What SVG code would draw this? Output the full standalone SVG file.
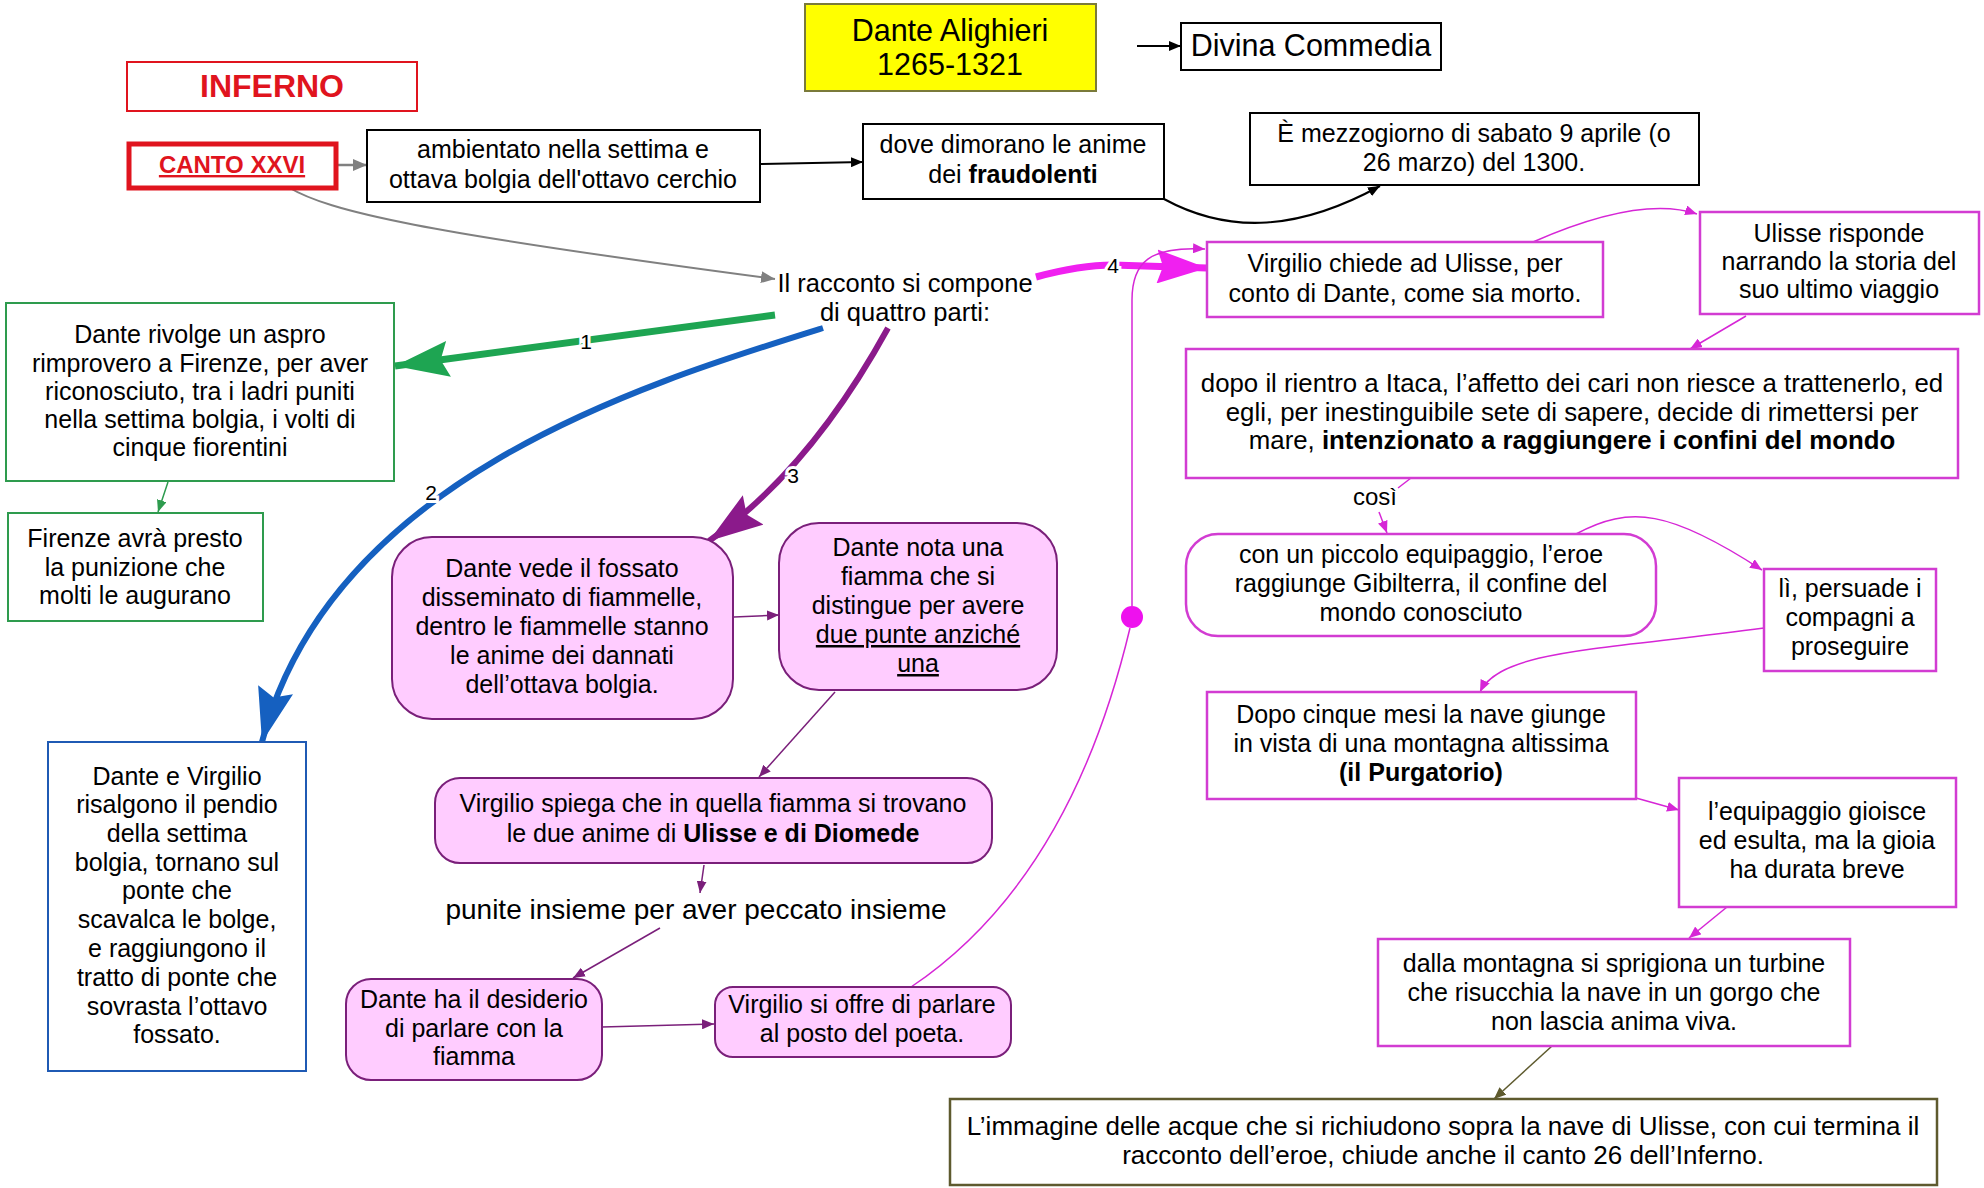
<svg xmlns="http://www.w3.org/2000/svg" width="1984" height="1188" viewBox="0 0 1984 1188" xml:space="preserve">
<defs>
<style>
.t{font-family:"Liberation Sans",Arial,sans-serif;font-size:25px;fill:#000;text-anchor:middle}
.b{font-weight:bold}
.bk{fill:#fff;stroke:#000;stroke-width:2}
.red{fill:#fff;stroke:#E0141E;stroke-width:2}
.red5{fill:#fff;stroke:#E0141E;stroke-width:5}
.grn{fill:#fff;stroke:#2E9B4E;stroke-width:2}
.blu{fill:#fff;stroke:#1F5AB4;stroke-width:2}
.mag{fill:#fff;stroke:#D23CD2;stroke-width:2.5}
.pnk{fill:#FFCCFF;stroke:#7A1F7A;stroke-width:2}
.olv{fill:#fff;stroke:#5E5A2E;stroke-width:2.5}
.yel{fill:#FFFF00;stroke:#7A7A3A;stroke-width:2}
.c{fill:none}
.lbl{font-family:"Liberation Sans",Arial,sans-serif;font-size:21px;fill:#000;text-anchor:middle;paint-order:stroke;stroke:#fff;stroke-width:6px}
</style>
<marker id="aK" markerUnits="userSpaceOnUse" markerWidth="12" markerHeight="10" refX="12" refY="5" orient="auto" viewBox="0 0 12 10"><path d="M0,0L12,5L0,10z" fill="#000"/></marker>
<marker id="aGy" markerUnits="userSpaceOnUse" markerWidth="14" markerHeight="12" refX="14" refY="6" orient="auto" viewBox="0 0 14 12"><path d="M0,0L14,6L0,12z" fill="#808080"/></marker>
<marker id="aG" markerUnits="userSpaceOnUse" markerWidth="12" markerHeight="10" refX="12" refY="5" orient="auto" viewBox="0 0 12 10"><path d="M0,0L12,5L0,10z" fill="#2E9B4E"/></marker>
<marker id="aP" markerUnits="userSpaceOnUse" markerWidth="12" markerHeight="10" refX="12" refY="5" orient="auto" viewBox="0 0 12 10"><path d="M0,0L12,5L0,10z" fill="#7A1F7A"/></marker>
<marker id="aM" markerUnits="userSpaceOnUse" markerWidth="12" markerHeight="10" refX="12" refY="5" orient="auto" viewBox="0 0 12 10"><path d="M0,0L12,5L0,10z" fill="#D626D6"/></marker>
<marker id="aO" markerUnits="userSpaceOnUse" markerWidth="12" markerHeight="10" refX="12" refY="5" orient="auto" viewBox="0 0 12 10"><path d="M0,0L12,5L0,10z" fill="#5E5A2E"/></marker>
<marker id="hG" markerUnits="userSpaceOnUse" markerWidth="56" markerHeight="36" refX="54" refY="18" orient="auto" viewBox="0 0 56 36"><path d="M0,0L54,18L0,36L8,18z" fill="#1EA552"/></marker>
<marker id="hB" markerUnits="userSpaceOnUse" markerWidth="56" markerHeight="36" refX="54" refY="18" orient="auto" viewBox="0 0 56 36"><path d="M0,0L54,18L0,36L8,18z" fill="#1560C0"/></marker>
<marker id="hV" markerUnits="userSpaceOnUse" markerWidth="56" markerHeight="36" refX="54" refY="18" orient="auto" viewBox="0 0 56 36"><path d="M0,0L54,18L0,36L8,18z" fill="#8B1A8B"/></marker>
<marker id="hM" markerUnits="userSpaceOnUse" markerWidth="52" markerHeight="34" refX="50" refY="17" orient="auto" viewBox="0 0 52 34"><path d="M0,0L50,17L0,34L6,17z" fill="#F020F0"/></marker>
</defs>
<g id="connectors">
<path class="c" d="M1137 46 L1181 46" stroke="#000" stroke-width="2" marker-end="url(#aK)"/>
<path class="c" d="M337 165 L367 165" stroke="#808080" stroke-width="2.5" marker-end="url(#aGy)"/>
<path class="c" d="M288 187 C330 212 420 232 775 279" stroke="#808080" stroke-width="2" marker-end="url(#aGy)"/>
<path class="c" d="M760 164 L863 162" stroke="#000" stroke-width="2" marker-end="url(#aK)"/>
<path class="c" d="M1164 199 C1230 235 1300 230 1380 186" stroke="#000" stroke-width="2" marker-end="url(#aK)"/>
<path class="c" d="M775 315 L395 366" stroke="#1EA552" stroke-width="7" marker-end="url(#hG)"/>
<path class="c" d="M823 328 C640 385 330 480 262 742" stroke="#1560C0" stroke-width="6" marker-end="url(#hB)"/>
<path class="c" d="M888 328 Q810 470 709 541" stroke="#8B1A8B" stroke-width="6" marker-end="url(#hV)"/>
<path class="c" d="M1036 277 Q1080 265 1113 265 L1207 268" stroke="#F020F0" stroke-width="7" marker-end="url(#hM)"/>
<text class="lbl" x="586" y="349">1</text>
<text class="lbl" x="431" y="500">2</text>
<text class="lbl" x="793" y="483">3</text>
<text class="lbl" x="1113" y="273">4</text>
<path class="c" d="M168 482 L158 512" stroke="#2E9B4E" stroke-width="1.5" marker-end="url(#aG)"/>
<path class="c" d="M734 617 L779 615" stroke="#7A1F7A" stroke-width="1.5" marker-end="url(#aP)"/>
<path class="c" d="M835 692 L759 777" stroke="#7A1F7A" stroke-width="1.5" marker-end="url(#aP)"/>
<path class="c" d="M704 865 L700 893" stroke="#7A1F7A" stroke-width="1.5" marker-end="url(#aP)"/>
<path class="c" d="M660 928 L573 978" stroke="#7A1F7A" stroke-width="1.5" marker-end="url(#aP)"/>
<path class="c" d="M602 1027 L714 1024" stroke="#7A1F7A" stroke-width="1.5" marker-end="url(#aP)"/>
<path class="c" d="M1132 606 L1132 300 C1132 262 1150 246 1205 249" stroke="#D626D6" stroke-width="1.5" marker-end="url(#aM)"/>
<path class="c" d="M1130 628 Q1070 880 911 987" stroke="#D626D6" stroke-width="1.5"/>
<circle cx="1132" cy="617" r="11" fill="#EE11EE"/>
<path class="c" d="M1533 242 Q1640 195 1697 214" stroke="#D626D6" stroke-width="1.5" marker-end="url(#aM)"/>
<path class="c" d="M1746 316 L1690 349" stroke="#D626D6" stroke-width="1.5" marker-end="url(#aM)"/>
<path class="c" d="M1411 478 L1398 488" stroke="#D626D6" stroke-width="1.5"/>
<path class="c" d="M1379 512 L1387 533" stroke="#D626D6" stroke-width="1.5" marker-end="url(#aM)"/>
<text class="t" x="1375" y="505" style="font-size:24px">così</text>
<path class="c" d="M1576 534 C1630 505 1670 510 1762 570" stroke="#D626D6" stroke-width="1.5" marker-end="url(#aM)"/>
<path class="c" d="M1764 628 C1600 650 1500 650 1480 692" stroke="#D626D6" stroke-width="1.5" marker-end="url(#aM)"/>
<path class="c" d="M1636 798 L1679 810" stroke="#D626D6" stroke-width="1.5" marker-end="url(#aM)"/>
<path class="c" d="M1727 907 L1689 938" stroke="#D626D6" stroke-width="1.5" marker-end="url(#aM)"/>
<path class="c" d="M1552 1046 L1494 1099" stroke="#5E5A2E" stroke-width="1.5" marker-end="url(#aO)"/>
</g>
<g id="n-dante">
<rect class="yel" x="805" y="4" width="291" height="87"/>
<text class="t" x="950" y="41" style="font-size:30.5px">Dante Alighieri</text>
<text class="t" x="950" y="75" style="font-size:30.5px">1265-1321</text>
</g>
<g id="n-divina">
<rect class="bk" x="1181" y="23" width="260" height="47"/>
<text class="t" x="1311" y="56" style="font-size:30.5px">Divina Commedia</text>
</g>
<g id="n-inferno">
<rect class="red" x="127" y="62" width="290" height="49"/>
<text class="t b" x="272" y="97" style="font-size:32px;fill:#E0141E">INFERNO</text>
</g>
<g id="n-canto">
<rect class="red5" x="129" y="144" width="207" height="44"/>
<text class="t b" x="232" y="173" style="font-size:24px;fill:#E0141E;text-decoration:underline">CANTO XXVI</text>
</g>
<g id="n-ambientato">
<rect class="bk" x="367" y="130" width="393" height="72"/>
<text class="t" x="563" y="158">ambientato  nella  settima e</text>
<text class="t" x="563" y="188">ottava bolgia dell'ottavo cerchio</text>
</g>
<g id="n-dove">
<rect class="bk" x="863" y="124" width="301" height="75"/>
<text class="t" x="1013" y="153">dove dimorano le anime</text>
<text class="t" x="1013" y="183">dei <tspan class="b">fraudolenti</tspan></text>
</g>
<g id="n-mezzogiorno">
<rect class="bk" x="1250" y="113" width="449" height="72"/>
<text class="t" x="1474" y="142">È mezzogiorno di sabato 9 aprile (o</text>
<text class="t" x="1474" y="171">26 marzo) del 1300.</text>
</g>
<g id="n-racconto">
<text class="t" x="905" y="292" style="font-size:25.5px">Il racconto si compone</text>
<text class="t" x="905" y="321" style="font-size:25.5px">di quattro parti:</text>
</g>
<g id="n-rivolge">
<rect class="grn" x="6" y="303" width="388" height="178"/>
<text class="t" x="200" y="343">Dante rivolge un aspro</text>
<text class="t" x="200" y="372">rimprovero a Firenze,  per aver</text>
<text class="t" x="200" y="400">riconosciuto, tra i ladri puniti</text>
<text class="t" x="200" y="428">nella settima bolgia, i volti di</text>
<text class="t" x="200" y="456">cinque fiorentini</text>
</g>
<g id="n-firenze">
<rect class="grn" x="8" y="513" width="255" height="108"/>
<text class="t" x="135" y="547">Firenze avrà presto</text>
<text class="t" x="135" y="576">la punizione che</text>
<text class="t" x="135" y="604">molti le augurano</text>
</g>
<g id="n-risalgono">
<rect class="blu" x="48" y="742" width="258" height="329"/>
<text class="t" x="177" y="785">Dante e Virgilio</text>
<text class="t" x="177" y="813">risalgono il pendio</text>
<text class="t" x="177" y="842">della settima</text>
<text class="t" x="177" y="871">bolgia, tornano sul</text>
<text class="t" x="177" y="899">ponte che</text>
<text class="t" x="177" y="928">scavalca le bolge,</text>
<text class="t" x="177" y="957">e raggiungono il</text>
<text class="t" x="177" y="986">tratto di ponte che</text>
<text class="t" x="177" y="1015">sovrasta l’ottavo</text>
<text class="t" x="177" y="1043">fossato.</text>
</g>
<g id="n-fossato">
<rect class="pnk" x="392" y="537" width="341" height="182" rx="40"/>
<text class="t" x="562" y="577">Dante vede il fossato</text>
<text class="t" x="562" y="606">disseminato di fiammelle,</text>
<text class="t" x="562" y="635">dentro le fiammelle stanno</text>
<text class="t" x="562" y="664">le anime dei dannati</text>
<text class="t" x="562" y="693">dell’ottava bolgia.</text>
</g>
<g id="n-nota">
<rect class="pnk" x="779" y="523" width="278" height="167" rx="40"/>
<text class="t" x="918" y="556">Dante nota una</text>
<text class="t" x="918" y="585">fiamma che si</text>
<text class="t" x="918" y="614">distingue  per avere</text>
<text class="t" x="918" y="643" style="text-decoration:underline">due punte anziché </text>
<text class="t" x="918" y="672" style="text-decoration:underline">una</text>
</g>
<g id="n-spiega">
<rect class="pnk" x="435" y="778" width="557" height="85" rx="25"/>
<text class="t" x="713" y="812">Virgilio spiega che in quella fiamma si trovano</text>
<text class="t" x="713" y="842">le due anime di <tspan class="b">Ulisse e di Diomede</tspan></text>
</g>
<g id="n-punite">
<text class="t" x="696" y="919" style="font-size:28px">punite  insieme per aver peccato insieme</text>
</g>
<g id="n-desiderio">
<rect class="pnk" x="346" y="979" width="256" height="101" rx="25"/>
<text class="t" x="474" y="1008">Dante ha il desiderio</text>
<text class="t" x="474" y="1037">di parlare con la</text>
<text class="t" x="474" y="1065">fiamma</text>
</g>
<g id="n-offre">
<rect class="pnk" x="715" y="987" width="296" height="70" rx="18"/>
<text class="t" x="862" y="1013">Virgilio si offre di parlare</text>
<text class="t" x="862" y="1042">al posto del poeta.</text>
</g>
<g id="n-chiede">
<rect class="mag" x="1207" y="242" width="396" height="75"/>
<text class="t" x="1405" y="272">Virgilio chiede ad Ulisse, per</text>
<text class="t" x="1405" y="302">conto di Dante, come sia morto.</text>
</g>
<g id="n-risponde">
<rect class="mag" x="1700" y="212" width="279" height="102"/>
<text class="t" x="1839" y="242">Ulisse risponde</text>
<text class="t" x="1839" y="270">narrando la storia del</text>
<text class="t" x="1839" y="298">suo ultimo viaggio</text>
</g>
<g id="n-itaca">
<rect class="mag" x="1186" y="349" width="772" height="129"/>
<text class="t" x="1572" y="392" style="font-size:25.8px">dopo il rientro a Itaca, l’affetto dei cari non riesce a trattenerlo, ed</text>
<text class="t" x="1572" y="421" style="font-size:25.8px">egli, per inestinguibile sete di sapere, decide di rimettersi per</text>
<text class="t" x="1572" y="449" style="font-size:25.8px">mare, <tspan class="b">intenzionato a raggiungere i confini del mondo</tspan></text>
</g>
<g id="n-gibilterra">
<rect class="mag" x="1186" y="534" width="470" height="102" rx="32"/>
<text class="t" x="1421" y="563">con un piccolo equipaggio, l’eroe</text>
<text class="t" x="1421" y="592">raggiunge  Gibilterra, il confine del</text>
<text class="t" x="1421" y="621">mondo conosciuto</text>
</g>
<g id="n-persuade">
<rect class="mag" x="1764" y="569" width="172" height="102"/>
<text class="t" x="1850" y="597">lì, persuade i</text>
<text class="t" x="1850" y="626">compagni a</text>
<text class="t" x="1850" y="655">proseguire</text>
</g>
<g id="n-purgatorio">
<rect class="mag" x="1207" y="692" width="429" height="107"/>
<text class="t" x="1421" y="723">Dopo cinque mesi la nave giunge</text>
<text class="t" x="1421" y="752">in vista di una montagna altissima</text>
<text class="t b" x="1421" y="781">(il  Purgatorio)</text>
</g>
<g id="n-gioisce">
<rect class="mag" x="1679" y="778" width="277" height="129"/>
<text class="t" x="1817" y="820">l’equipaggio gioisce</text>
<text class="t" x="1817" y="849">ed esulta, ma la gioia</text>
<text class="t" x="1817" y="878">ha durata breve</text>
</g>
<g id="n-turbine">
<rect class="mag" x="1378" y="939" width="472" height="107"/>
<text class="t" x="1614" y="972">dalla montagna si sprigiona un turbine</text>
<text class="t" x="1614" y="1001">che risucchia la nave in un gorgo che</text>
<text class="t" x="1614" y="1030">non lascia anima viva.</text>
</g>
<g id="n-finale">
<rect class="olv" x="950" y="1099" width="987" height="86"/>
<text class="t" x="1443" y="1135" style="font-size:26px">L’immagine delle acque che si richiudono sopra la nave di Ulisse, con cui termina il</text>
<text class="t" x="1443" y="1164" style="font-size:26px">racconto dell’eroe, chiude anche il canto 26 dell’Inferno.</text>
</g>
</svg>
